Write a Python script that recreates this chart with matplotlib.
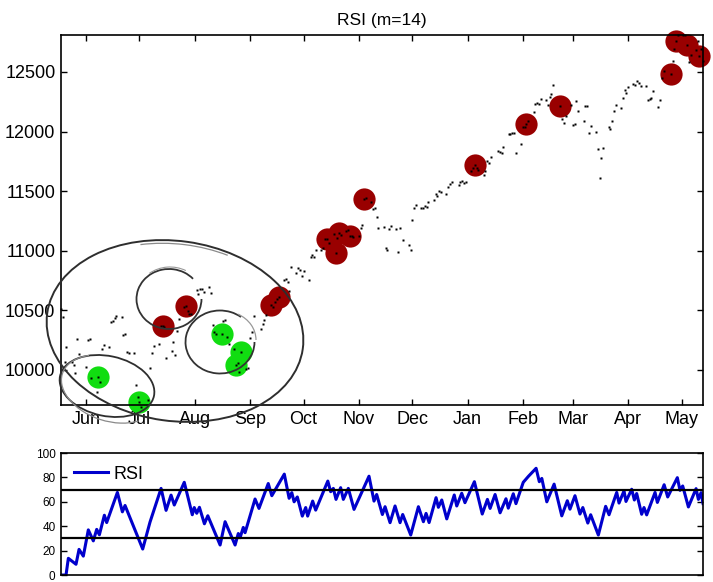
import numpy as np
import matplotlib
matplotlib.use('Agg')
import matplotlib.pyplot as plt
import matplotlib.dates as mdates
from matplotlib.patches import Ellipse, Arc

plt.rcParams['font.family'] = ['Liberation Sans', 'DejaVu Sans']

# trading days (NYSE holidays removed)
start = np.datetime64('2010-05-18')
end = np.datetime64('2011-05-14')
holidays = ['2010-05-31', '2010-07-05', '2010-09-06', '2010-11-25',
            '2010-12-24', '2011-01-17', '2011-02-21', '2011-04-22']

# daily closes, month by month
closes = [
    10510, 10444, 10068, 10193, 10067, 10043, 9975, 10259, 10137,                     # May
    10024, 10249, 10256, 9932, 9816, 9940, 9899, 10173, 10212, 10191, 10405,
    10410, 10434, 10450, 10443, 10294, 10298, 10152, 10144, 10138, 9870, 9774,        # Jun
    9732, 9686, 9744, 10018, 10139, 10198, 10216, 10364, 10367, 10360, 10098,
    10155, 10230, 10121, 10322, 10425, 10525, 10538, 10498, 10468, 10466,             # Jul
    10674, 10636, 10680, 10675, 10654, 10698, 10644, 10379, 10320, 10303, 10302,
    10406, 10416, 10272, 10214, 10174, 10041, 10060, 9986, 10151, 10010, 10015,       # Aug
    10270, 10320, 10448, 10341, 10387, 10415, 10463, 10544, 10527, 10573, 10595,
    10608, 10753, 10761, 10739, 10662, 10860, 10812, 10858, 10835, 10788,             # Sep
    10830, 10751, 10944, 10968, 10948, 11006, 11010, 11021, 11096, 11095, 11063,
    11143, 10979, 11108, 11147, 11133, 11165, 11170, 11127, 11127, 11118,             # Oct
    11125, 11189, 11216, 11434, 11445, 11406, 11347, 11358, 11284, 11193, 11202,
    11024, 11008, 11182, 11204, 11179, 10989, 11188, 11092, 11052, 11006,             # Nov
    11256, 11362, 11382, 11362, 11359, 11372, 11370, 11411, 11429, 11477, 11457,
    11500, 11492, 11479, 11534, 11559, 11573, 11555, 11576, 11585, 11570, 11578,      # Dec
    11671, 11691, 11723, 11697, 11675, 11638, 11671, 11755, 11732, 11787,
    11837, 11825, 11823, 11872, 11980, 11977, 11985, 11990, 11824, 11892,             # Jan
    12040, 12041, 12062, 12092, 12161, 12234, 12240, 12229, 12273, 12268,
    12226, 12288, 12318, 12391, 12213, 12106, 12068, 12130, 12226,                    # Feb
    12058, 12066, 12258, 12170, 12090, 12214, 12214, 11985, 12045, 11994, 11856,
    11613, 11775, 11859, 12037, 12019, 12086, 12171, 12221, 12198, 12280, 12350,
    12320,                                                                            # Mar
    12377, 12400, 12394, 12426, 12409, 12380, 12381, 12263, 12270, 12285,
    12342, 12202, 12267, 12453, 12506, 12480, 12595, 12691, 12763, 12811,             # Apr
    12807, 12808, 12724, 12584, 12639, 12685, 12760, 12630, 12696, 12596,             # May
]

sell_dates = ['2010-07-14', '2010-07-27', '2010-09-13', '2010-09-17',
              '2010-10-14', '2010-10-19', '2010-10-21', '2010-10-27',
              '2010-11-04', '2011-01-05', '2011-02-03', '2011-02-22',
              '2011-04-25', '2011-04-28', '2011-05-04', '2011-05-11']
buy_dates = ['2010-06-08', '2010-07-01', '2010-08-16', '2010-08-24', '2010-08-27']

# RSI turning points: days after start, value
rsi_day = [0, 2.8, 4.1, 8.4, 10.1, 12.5, 15.3, 18.1, 20.0, 21.5, 24.3, 25.6, 31.6,
           34.4, 35.9, 45.8, 49.9, 56.1, 58.9, 61.7, 63.5, 69.1, 73.6, 74.7, 76.1,
           77.6, 80.4, 82.3, 89.2, 92.0, 97.6, 99.4, 100.4, 102.2, 103.2, 108.8,
           111.0, 116.2, 118.2, 125.2, 127.9, 129.4, 130.7, 132.5, 135.3, 137.2,
           138.3, 141.1, 142.8, 149.6, 151.2, 152.7, 154.2, 156.8, 158.3, 161.1,
           164.3, 172.7, 175.5, 177.0, 180.2, 181.7, 184.5, 187.3, 190.1, 191.6,
           196.1, 200.4, 203.2, 204.7, 206.4, 210.3, 211.6, 213.5, 216.3, 220.5,
           221.9, 224.7, 226.5, 231.8, 236.2, 239.1, 240.6, 243.4, 246.2, 249.5,
           250.8, 253.6, 255.1, 259.2, 262.1, 266.4, 268.2, 269.6, 272.4, 276.5,
           280.8, 283.9, 285.4, 288.2, 291.0, 292.6, 295.4, 297.0, 301.3, 305.4,
           307.3, 311.6, 312.9, 315.7, 316.8, 320.0, 321.5, 322.8, 325.6, 326.9,
           328.4, 333.1, 334.4, 338.2, 340.2, 345.6, 347.1, 348.6, 351.8, 356.1,
           357.4, 358.9, 360.0]
rsi_val = [0, 0, 13.7, 8.8, 21, 15.5, 37, 28, 37.4, 33, 49, 43, 67.7,
           51.8, 57, 21.3, 43.4, 71, 53, 65.5, 57.4, 76, 49.4, 55.3, 50.6,
           55.5, 42, 48.6, 24.6, 43.7, 24.6, 34, 30.6, 39, 34.7, 62.3,
           54.6, 75, 65, 82.7, 62.9, 67.5, 60, 64, 48.3, 55.3,
           48.3, 60.6, 53.2, 77, 68.3, 71, 62, 71.6, 62, 71,
           53.8, 81, 60.6, 66, 49.6, 56, 42.9, 56.6, 42.9, 49.6,
           32.8, 56, 43.7, 50.5, 43, 63.4, 55.5, 61.5, 46, 65.6,
           56.6, 67, 59.3, 76.5, 50, 62, 54.6, 66, 51, 62.5,
           54.8, 66.6, 58.5, 76, 80.9, 87.5, 76.5, 79.2, 60, 74.5,
           48.5, 60.9, 54, 65, 50, 55.3, 42.6, 49.4, 32.8, 56.3,
           49.4, 67.7, 59, 69, 60.3, 70.3, 61.5, 66.8, 49.8, 55.3,
           49.3, 67.7, 59.5, 74, 64, 79.8, 69.4, 73, 55.8, 70.8,
           62, 67.5, 58.6]
upper_level = 70
lower_level = 30

days = np.arange(start, end)
trade_days = days[np.is_busday(days, holidays=holidays)]
assert len(trade_days) == len(closes), (len(trade_days), len(closes))
x = mdates.date2num(trade_days)
price = np.array(closes, dtype=float)
lookup = dict(zip(trade_days.astype(str), price))

sx = mdates.date2num(np.array(sell_dates, dtype='datetime64[D]'))
sy = [lookup[d] for d in sell_dates]
bx = mdates.date2num(np.array(buy_dates, dtype='datetime64[D]'))
by = [lookup[d] for d in buy_dates]
rx = mdates.date2num(start) + np.array(rsi_day)

fig = plt.figure(figsize=(7.13, 5.82), dpi=100)
ax = fig.add_axes([0.0856, 0.3041, 0.9004, 0.6357])
ax2 = fig.add_axes([0.0856, 0.0120, 0.9004, 0.2096])

# price panel
ax.plot(sx, sy, 'o', color='#990000', ms=16, mec='none', zorder=2, clip_on=False)
ax.plot(bx, by, 'o', color='#11dd11', ms=16, mec='none', zorder=2, clip_on=False)
ax.plot(x, price, 's', color='black', ms=1.8, mec='none', zorder=3, clip_on=False)
ax.set_xlim(x[0], x[-1])
ax.set_ylim(9705, 12810)
ax.set_yticks([10000, 10500, 11000, 11500, 12000, 12500])
ax.xaxis.set_major_locator(mdates.MonthLocator())
ax.xaxis.set_major_formatter(mdates.DateFormatter('%b'))
ax.tick_params(direction='in', length=4.5, width=1, top=True, right=True,
               labelsize=13, pad=4)
ax.set_title('RSI (m=14)', fontsize=12.5, pad=7)
for s in ax.spines.values():
    s.set_linewidth(1.2)

# hand drawn marks, in figure pixels
def sketch(patch_cls, cx, cy, w, h, ang, color, lw, **kw):
    p = patch_cls((cx / 100, (582 - cy) / 100), w / 100, h / 100, angle=ang,
                  transform=fig.dpi_scale_trans, fill=False, color=color,
                  lw=lw, **kw)
    fig.add_artist(p)

sketch(Ellipse, 175, 331, 258, 180, -8, '#2e2e2e', 1.4)
sketch(Arc, 174, 332, 256, 176, -7, '#8a8a8a', 0.9, theta1=62, theta2=118)
sketch(Ellipse, 107, 386, 96, 60, -12, '#2e2e2e', 1.3)
sketch(Arc, 110, 389, 100, 64, -18, '#8a8a8a', 0.9, theta1=140, theta2=330)
sketch(Arc, 169, 299, 65, 60, 0, '#333333', 1.3, theta1=40, theta2=360)
sketch(Arc, 170, 298, 68, 62, 0, '#999999', 0.8, theta1=60, theta2=130)
sketch(Arc, 220, 342, 69, 63, 0, '#333333', 1.3, theta1=50, theta2=360)
sketch(Arc, 223, 340, 66, 58, 0, '#999999', 0.9, theta1=0, theta2=60)

# RSI panel
ax2.plot(rx, rsi_val, color='#0000cc', lw=2.2, label='RSI')
ax2.axhline(upper_level, color='black', lw=1.6)
ax2.axhline(lower_level, color='black', lw=1.6)
ax2.set_xlim(x[0], x[-1])
ax2.set_ylim(0, 100)
ax2.set_yticks([0, 20, 40, 60, 80, 100])
ax2.set_xticks([])
ax2.tick_params(direction='in', length=4.5, width=1, right=True,
                labelsize=8.5, pad=4)
for s in ax2.spines.values():
    s.set_linewidth(1.2)
ax2.legend(loc='upper left', frameon=False, fontsize=13, handlelength=1.9,
           borderaxespad=0.3, handletextpad=0.3)

fig.savefig('out.png', dpi=100)
